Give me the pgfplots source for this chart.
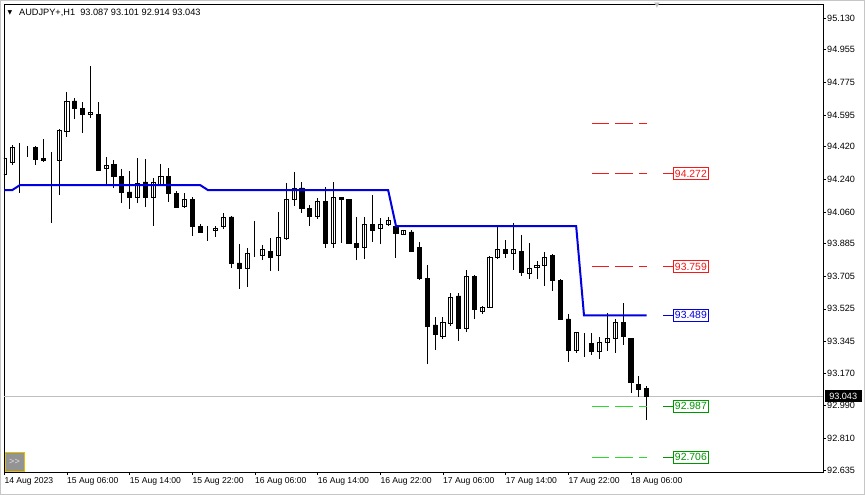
\documentclass[border=0pt]{standalone}
\usepackage{fontspec}
\setmainfont{Liberation Sans}
\newfontfamily\symfont{DejaVu Sans}
\usepackage{pgfplots}
\usepackage{pgfplotstable}
\pgfplotsset{compat=1.18}

\definecolor{mtblue}{RGB}{0,0,225}
\definecolor{mtred}{RGB}{245,25,25}
\definecolor{mtgreen}{RGB}{0,150,0}
\definecolor{mtlime}{RGB}{40,220,40}
\definecolor{mtgray}{RGB}{192,192,192}

% bar index: 0 = 15 Aug 06:00 (H1 bars)
\pgfplotstableread{
i o h l c
-8 94.264 94.363 94.258 94.357
-7 94.335 94.429 94.319 94.418
-6 94.407 94.440 94.164 94.407
-5 94.413 94.424 94.363 94.413
-4 94.413 94.424 94.319 94.352
-3 94.354 94.462 94.335 94.343
-2 94.346 94.391 93.999 94.346
-1 94.346 94.515 94.153 94.512
0 94.506 94.722 94.473 94.672
1 94.672 94.689 94.573 94.633
2 94.633 94.666 94.495 94.595
3 94.595 94.865 94.578 94.611
4 94.600 94.666 94.288 94.291
5 94.297 94.363 94.214 94.319
6 94.324 94.346 94.192 94.253
7 94.258 94.297 94.109 94.170
8 94.170 94.286 94.076 94.142
9 94.142 94.357 94.109 94.219
10 94.225 94.352 94.087 94.142
11 94.142 94.247 93.982 94.225
12 94.214 94.324 94.208 94.258
13 94.258 94.302 94.115 94.164
14 94.164 94.175 94.085 94.087
15 94.092 94.164 94.081 94.131
16 94.131 94.142 93.927 93.982
17 93.982 93.993 93.947 93.949
18 93.966 93.982 93.899 93.966
19 93.960 93.982 93.921 93.971
20 93.977 94.054 93.966 94.032
21 94.032 94.035 93.750 93.778
22 93.778 93.883 93.634 93.750
23 93.750 93.861 93.645 93.833
24 93.833 94.010 93.811 93.833
25 93.822 93.877 93.795 93.850
26 93.844 93.916 93.734 93.811
27 93.822 94.059 93.734 93.921
28 93.916 94.219 93.905 94.126
29 94.131 94.280 94.092 94.192
30 94.192 94.225 94.054 94.081
31 94.081 94.098 93.982 94.037
32 94.037 94.137 94.021 94.120
33 94.115 94.197 93.861 93.888
34 93.888 94.225 93.861 94.137
35 94.137 94.137 93.888 94.126
36 94.126 94.131 93.885 93.888
37 93.888 94.032 93.795 93.866
38 93.866 94.032 93.800 93.988
39 93.993 94.153 93.894 93.955
40 93.966 94.026 93.883 93.988
41 93.988 94.032 93.982 94.015
42 93.977 93.988 93.806 93.943
43 93.938 93.960 93.932 93.955
44 93.949 93.960 93.839 93.844
45 93.861 93.894 93.684 93.690
46 93.690 93.767 93.221 93.425
47 93.436 93.480 93.298 93.381
48 93.370 93.480 93.359 93.452
49 93.447 93.612 93.430 93.590
50 93.596 93.612 93.347 93.419
51 93.419 93.739 93.397 93.706
52 93.701 93.712 93.469 93.519
53 93.508 93.541 93.496 93.535
54 93.535 93.817 93.530 93.811
55 93.811 93.977 93.800 93.850
56 93.850 93.905 93.806 93.828
57 93.828 93.999 93.739 93.850
58 93.844 93.932 93.706 93.728
59 93.723 93.888 93.690 93.750
60 93.756 93.789 93.690 93.767
61 93.767 93.838 93.651 93.811
62 93.817 93.828 93.623 93.679
63 93.684 93.690 93.467 93.469
64 93.469 93.496 93.232 93.298
65 93.298 93.397 93.281 93.392
66 93.353 93.392 93.259 93.353
67 93.336 93.392 93.270 93.292
68 93.292 93.370 93.248 93.342
69 93.342 93.502 93.292 93.364
70 93.364 93.469 93.281 93.452
71 93.452 93.557 93.325 93.370
72 93.364 93.364 93.060 93.116
73 93.110 93.154 93.038 93.082
74 93.087 93.101 92.914 93.043
}\candles

\pgfplotstableread{
i v
-8 94.180
-7 94.180
-6 94.208
17 94.208
18 94.180
41 94.180
42 93.982
65 93.982
66 93.489
74 93.489
}\bline

\pgfplotsset{chartarea/.style={at={(4pt,23pt)}, anchor=south west,
  width=819pt, height=468pt, scale only axis, xmin=-8.04, xmax=96.51}}

\begin{document}
\begin{tikzpicture}[x=1pt,y=1pt]
\path[draw=gray!45, line width=1pt] (0.5,0.5) rectangle (864.5,494.5);

% frame, ticks, bid line
\begin{axis}[chartarea,
  ymin=92.6245, ymax=95.2073,
  axis line style={black, line width=0.9pt},
  tick align=outside, major tick length=3pt,
  tick style={black, line width=0.6pt},
  xtick pos=bottom, ytick pos=right, yticklabel pos=right,
  xtick={-8,0,8,16,24,32,40,48,56,64,72},
  xticklabels={14 Aug 2023, 15 Aug 06:00, 15 Aug 14:00, 15 Aug 22:00, 16 Aug 06:00, 16 Aug 14:00, 16 Aug 22:00, 17 Aug 06:00, 17 Aug 14:00, 17 Aug 22:00, 18 Aug 06:00},
  ytick={92.635,92.810,92.990,93.170,93.345,93.525,93.705,93.885,94.060,94.240,94.420,94.595,94.775,94.955,95.130},
  yticklabels={92.635,92.810,92.990,93.170,93.345,93.525,93.705,93.885,94.060,94.240,94.420,94.595,94.775,94.955,95.130},
  xticklabel style={anchor=north west, inner sep=0pt, yshift=-2.5pt, font=\fontsize{8.6pt}{10pt}\selectfont},
  yticklabel style={anchor=west, inner sep=0pt, xshift=1pt, font=\fontsize{9.1pt}{10pt}\selectfont},
]
\addplot[mtgray, line width=0.9pt] coordinates {(-8.04,93.043) (96.51,93.043)};
\end{axis}

% candles: invisible base with wicks, then white / black bodies stacked on it
\begin{axis}[chartarea, ymin=0.6245, ymax=3.2073, hide axis,
  ybar stacked, bar width=4.2pt]
\addplot[draw=none, fill=none,
  error bars/.cd, y dir=both, y explicit, error mark=none,
  error bar style={draw=black, line width=1pt}]
  table[x=i, y expr={min(\thisrow{o},\thisrow{c})-92},
        y error plus expr={\thisrow{h}-min(\thisrow{o},\thisrow{c})},
        y error minus expr={min(\thisrow{o},\thisrow{c})-\thisrow{l}}] \candles;
\addplot[fill=white, draw=black, line width=0.9pt]
  table[x=i, y expr={max(\thisrow{c}-\thisrow{o},0)}] \candles;
\addplot[fill=black, draw=black, line width=0.9pt]
  table[x=i, y expr={max(\thisrow{o}-\thisrow{c},0)}] \candles;
\end{axis}

% indicator line, levels and labels
\begin{axis}[chartarea, ymin=92.6245, ymax=95.2073, hide axis, clip=false]
\addplot[draw=mtblue, line width=2pt] table[x=i, y=v] \bline;
\addplot[draw=mtred, line width=1pt, dash pattern=on 17.6pt off 6pt] coordinates {(67,94.550) (74,94.550)};
\addplot[draw=mtred, line width=1pt, dash pattern=on 17.6pt off 6pt] coordinates {(67,94.272) (74,94.272)};
\addplot[draw=mtred, line width=1pt, dash pattern=on 17.6pt off 6pt] coordinates {(67,93.759) (74,93.759)};
\addplot[draw=mtlime, line width=1pt, dash pattern=on 17.6pt off 6pt] coordinates {(67,92.987) (74,92.987)};
\addplot[draw=mtlime, line width=1pt, dash pattern=on 17.6pt off 6pt] coordinates {(67,92.706) (74,92.706)};
\addplot[draw=mtred, line width=0.8pt] coordinates {(76.1,94.272) (77.36,94.272)};
\addplot[draw=mtred, line width=0.8pt] coordinates {(76.1,93.759) (77.36,93.759)};
\addplot[draw=mtblue, line width=0.8pt] coordinates {(76.1,93.489) (77.36,93.489)};
\addplot[draw=mtgreen, line width=0.8pt] coordinates {(76.1,92.987) (77.36,92.987)};
\addplot[draw=mtgreen, line width=0.8pt] coordinates {(76.1,92.706) (77.36,92.706)};
\tikzset{lvl/.style={fill=white, anchor=west, inner sep=0pt, line width=0.8pt,
  minimum width=35pt, minimum height=12.5pt, font=\fontsize{10.4pt}{12pt}\selectfont}}
\node[lvl, draw=mtred, text=mtred] at (axis cs:77.36,94.272) {94.272};
\node[lvl, draw=mtred, text=mtred] at (axis cs:77.36,93.759) {93.759};
\node[lvl, draw=mtblue, text=mtblue] at (axis cs:77.36,93.489) {93.489};
\node[lvl, draw=mtgreen, text=mtgreen] at (axis cs:77.36,92.987) {92.987};
\node[lvl, draw=mtgreen, text=mtgreen] at (axis cs:77.36,92.706) {92.706};
\node[fill=black, text=white, anchor=west, inner sep=0pt, minimum width=37pt,
  minimum height=11.5pt, xshift=1.5pt, font=\fontsize{9.1pt}{10pt}\selectfont]
  at (axis cs:96.51,93.043) {93.043};
\end{axis}

% header, shift marker, scroll button
\node[inner sep=0pt, font=\symfont\fontsize{6pt}{6pt}\selectfont] at (10,482.5) {▼};
\node[anchor=west, inner sep=0pt, font=\fontsize{9.2pt}{11pt}\selectfont] at (19,482.5)
  {AUDJPY+,H1\ \ 93.087 93.101 92.914 93.043};
\node[inner sep=0pt, text=gray!50, font=\symfont\fontsize{7pt}{7pt}\selectfont] at (657,489.5) {▼};
\filldraw[fill=gray!85, draw={rgb,255:red,230;green,190;blue,0}, line width=0.8pt]
  (5,23.5) rectangle (24,42.3);
\node[inner sep=0pt, text=gray!25, font=\fontsize{9pt}{10pt}\selectfont] at (14.5,33) {>{}>};
\end{tikzpicture}
\end{document}
